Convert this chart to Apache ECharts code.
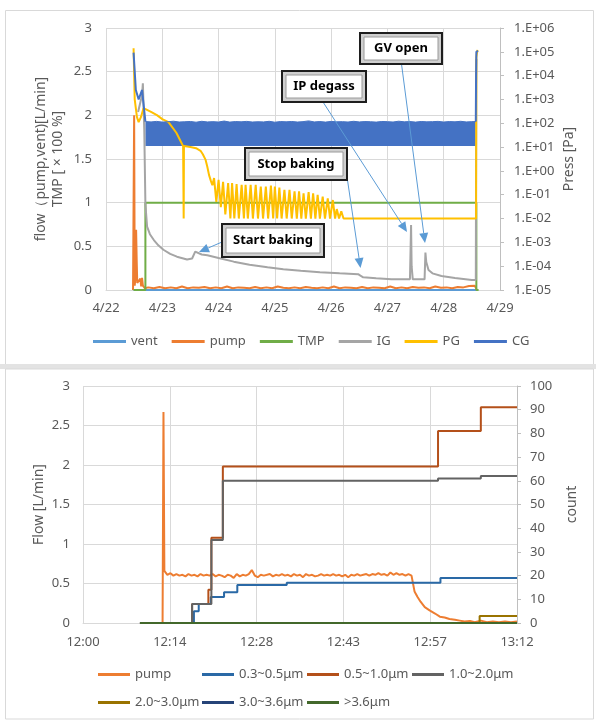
<!DOCTYPE html>
<html>
<head>
<meta charset="utf-8">
<title>flow / pressure</title>
<script src="https://cdn.jsdelivr.net/npm/echarts@6.0.0/dist/echarts.min.js"></script>
<style>
html, body { margin: 0; padding: 0; background: #fff; }
#main { width: 596px; height: 721px; }
</style>
</head>
<body>
<div id="main"></div>
<script>
var dom = document.getElementById('main');
var myChart = echarts.init(dom);

/* ---------- upper chart : x = days since 4/22 0:00 ---------- */
var dayLabels = ['4/22', '4/23', '4/24', '4/25', '4/26', '4/27', '4/28', '4/29'];
var topNames = ['vent', 'pump', 'TMP', 'IG', 'PG', 'CG'];
var topColors = ['#5B9BD5', '#ED7D31', '#70AD47', '#A5A5A5', '#FFC000', '#4472C4'];

// left axis  [L/min] / [x100 %]
var ventData = [[0.49, 0], [6.6, 0]];
var pumpData = [[0.48, 0], [0.50, 2.0], [0.51, 0.05], [0.52, 0.12], [0.535, 0.69], [0.545, 0.35], [0.555, 0.08],
    [0.57, 0.1], [0.59, 0.06], [0.61, 0.13], [0.625, 0.04], [0.64, 0.14], [0.655, 0.05], [0.67, 0.03], [0.69, 0.02],
    [0.75, 0.03], [0.85, 0.02], [0.95, 0.035], [1.05, 0.02], [1.15, 0.03], [1.25, 0.02], [1.35, 0.04], [1.45, 0.02],
    [1.55, 0.03], [1.65, 0.025], [1.75, 0.035], [1.85, 0.02], [1.95, 0.03], [2.05, 0.02], [2.15, 0.04], [2.25, 0.02],
    [2.35, 0.03], [2.45, 0.025], [2.55, 0.02], [2.65, 0.035], [2.75, 0.02], [2.85, 0.03], [2.95, 0.02], [3.05, 0.04],
    [3.15, 0.025], [3.25, 0.02], [3.35, 0.03], [3.45, 0.02], [3.55, 0.035], [3.65, 0.025], [3.75, 0.02], [3.85, 0.03],
    [3.95, 0.02], [4.05, 0.04], [4.15, 0.02], [4.25, 0.03], [4.35, 0.025], [4.45, 0.02], [4.55, 0.035], [4.65, 0.02],
    [4.75, 0.03], [4.85, 0.025], [4.95, 0.02], [5.05, 0.04], [5.15, 0.02], [5.25, 0.03], [5.35, 0.02], [5.45, 0.035],
    [5.55, 0.025], [5.65, 0.03], [5.75, 0.02], [5.85, 0.04], [5.95, 0.025], [6.05, 0.03], [6.15, 0.02], [6.25, 0.035],
    [6.35, 0.03], [6.45, 0.045], [6.55, 0.05], [6.575, 0.02], [6.58, 0]];
var tmpData = [[0.49, 0], [0.70, 0], [0.70, 1], [6.58, 1], [6.58, 0], [6.62, 0]];

// right axis  [Pa]
var igData = [[0.57, 300], [0.64, 1500], [0.655, 4800], [0.68, 50], [0.70, 0.04], [0.73, 4.6e-3], [0.78, 2.2e-3],
    [0.85, 1.25e-3], [0.93, 7.5e-4], [1.02, 4.9e-4], [1.14, 3.3e-4], [1.26, 2.5e-4], [1.44, 1.9e-4], [1.53, 2.1e-4],
    [1.56, 1.9e-4], [1.585, 4.1e-4], [1.62, 3.5e-4], [1.70, 3.1e-4], [1.80, 2.9e-4], [2.0, 2.2e-4], [2.27, 1.55e-4],
    [2.55, 1.15e-4], [2.87, 9e-5], [3.15, 7.5e-5], [3.46, 6.5e-5], [3.8, 5.6e-5], [4.15, 5.0e-5], [4.48, 4.6e-5],
    [4.52, 4.0e-5], [4.57, 3.4e-5], [4.8, 3.1e-5], [5.07, 2.8e-5], [5.40, 2.8e-5], [5.42, 5.4e-3], [5.43, 1e-4],
    [5.45, 2.8e-5], [5.66, 2.8e-5], [5.675, 3.7e-4], [5.69, 1.5e-4], [5.73, 6.9e-5], [5.8, 5e-5], [5.96, 3.9e-5],
    [6.2, 3.2e-5], [6.5, 2.6e-5], [6.57, 2.6e-5], [6.58, 5e4]];
var pgData = [[0.49, 1.4e5], [0.51, 1e3], [0.55, 180], [0.58, 112], [0.62, 180], [0.666, 430], [0.70, 430],
    [0.80, 300], [0.905, 220], [1.0, 150], [1.11, 112], [1.25, 40], [1.37, 11], [1.375, 11], [1.38, 0.01],
    [1.385, 11], [1.5, 10], [1.6, 9], [1.68, 7], [1.72, 5], [1.77, 2.9], [1.80, 1.5], [1.83, 0.68], [1.86, 0.4],
    [1.89, 0.25],
    [1.92, 0.5], [1.96, 0.05], [2.00, 0.42], [2.04, 0.03], [2.08, 0.35], [2.12, 0.015], [2.17, 0.31], [2.21, 0.01],
    [2.24, 0.31], [2.28, 0.01], [2.32, 0.28], [2.36, 0.01], [2.41, 0.26], [2.45, 0.01], [2.48, 0.26], [2.52, 0.01],
    [2.57, 0.26], [2.61, 0.01], [2.66, 0.26], [2.70, 0.01], [2.75, 0.22], [2.79, 0.01], [2.84, 0.22], [2.88, 0.01],
    [2.93, 0.24], [2.97, 0.01], [3.00, 0.22], [3.04, 0.01], [3.08, 0.2], [3.12, 0.01], [3.17, 0.16], [3.21, 0.01],
    [3.26, 0.16], [3.30, 0.01], [3.35, 0.14], [3.39, 0.01], [3.43, 0.14], [3.47, 0.01], [3.51, 0.115], [3.55, 0.01],
    [3.60, 0.13], [3.64, 0.01], [3.68, 0.115], [3.72, 0.01], [3.76, 0.1], [3.80, 0.01], [3.85, 0.083], [3.89, 0.01],
    [3.94, 0.07], [3.98, 0.01], [4.03, 0.06], [4.07, 0.01], [4.10, 0.025], [4.14, 0.01], [4.18, 0.02], [4.22, 0.01],
    [6.575, 0.01], [6.58, 6e4], [6.60, 1.2e5]];
var cgStart = [[0.49, 9.3e4], [0.53, 2.5e3], [0.58, 1e3], [0.64, 2.5e3], [0.70, 118]];
// CG swings quickly between ~11 Pa and the upper values below: drawn as a filled band
var cgBandT = [0.70, 0.8, 0.9, 1.0, 1.1, 1.2, 1.3, 1.4, 1.5, 1.6,
    1.7, 1.8, 1.9, 2.0, 2.1, 2.2, 2.3, 2.4, 2.5, 2.6,
    2.7, 2.8, 2.9, 3.0, 3.1, 3.2, 3.3, 3.4, 3.5, 3.6,
    3.7, 3.8, 3.9, 4.0, 4.1, 4.2, 4.3, 4.4, 4.5, 4.6,
    4.7, 4.8, 4.9, 5.0, 5.1, 5.2, 5.3, 5.4, 5.5, 5.6,
    5.7, 5.8, 5.9, 6.0, 6.1, 6.2, 6.3, 6.4, 6.5, 6.57];
var cgBandHigh = [118, 114, 120, 112, 116, 122, 113, 116, 119, 111,
    121, 114, 117, 113, 124, 112, 118, 115, 120, 113,
    116, 114, 121, 111, 118, 115, 119, 113, 117, 126,
    114, 118, 112, 120, 115, 117, 113, 121, 114, 118,
    116, 112, 119, 117, 113, 122, 115, 118, 112, 119,
    115, 117, 120, 113, 118, 115, 121, 114, 117, 118];
var cgBandLow = 11;
var cgEnd = [[6.57, 118], [6.575, 1.1e4], [6.58, 1e5], [6.61, 1.1e5]];

/* ---------- lower chart : x = minutes since 12:00 ---------- */
var bottomNames = ['pump', '0.3~0.5μm', '0.5~1.0μm', '1.0~2.0μm', '2.0~3.0μm', '3.0~3.6μm', '>3.6μm'];
var bottomColors = ['#ED7D31', '#2A69A6', '#B4501A', '#636363', '#997300', '#264478', '#43682B'];

var flowData = [[13.2, 0], [13.35, 2.67], [13.5, 0.66], [14, 0.61], [14.5, 0.63], [15, 0.6], [15.5, 0.62], [16, 0.6],
    [16.5, 0.61], [17, 0.59], [17.5, 0.62], [18, 0.6], [18.5, 0.61], [19, 0.59], [19.5, 0.62], [20, 0.6], [20.5, 0.61],
    [21, 0.6], [21.5, 0.62], [22, 0.59], [22.5, 0.61], [23, 0.6], [23.5, 0.58], [24, 0.61], [24.5, 0.6], [25, 0.57],
    [25.5, 0.62], [26, 0.59], [26.5, 0.61], [27, 0.6], [27.5, 0.62], [28, 0.67], [28.5, 0.6], [29, 0.58], [29.5, 0.61],
    [30, 0.6], [31, 0.62], [31.5, 0.59], [32, 0.61], [32.5, 0.6], [33, 0.62], [33.5, 0.6], [34, 0.61], [34.5, 0.59],
    [35, 0.62], [35.5, 0.6], [36, 0.61], [36.5, 0.58], [37, 0.62], [37.5, 0.6], [38, 0.61], [38.5, 0.59], [39, 0.6],
    [39.5, 0.62], [40, 0.6], [40.5, 0.61], [41, 0.6], [41.5, 0.62], [42, 0.6], [42.5, 0.61], [43, 0.59], [43.5, 0.61],
    [44, 0.58], [44.5, 0.61], [45, 0.6], [45.5, 0.62], [46, 0.6], [46.5, 0.61], [47, 0.62], [47.5, 0.6], [48, 0.62],
    [48.5, 0.61], [49, 0.63], [49.5, 0.61], [50, 0.62], [50.5, 0.6], [51, 0.64], [51.5, 0.61], [52, 0.63], [52.5, 0.61],
    [53, 0.62], [53.5, 0.6], [54, 0.62], [54.5, 0.6], [55, 0.4], [55.5, 0.33], [56, 0.27], [56.7, 0.2], [57.5, 0.16],
    [58.4, 0.12], [59.2, 0.08], [60, 0.07], [60.8, 0.05], [61.7, 0.04], [62.5, 0.03], [63.3, 0.02], [64.2, 0.025],
    [65, 0.01], [66, 0.03], [67, 0.01], [68, 0.02], [69, 0.01], [70, 0.02], [71, 0.01], [72, 0.02]];
var cnt03 = [[9.45, 0], [18.4, 5], [19.2, 8], [21.2, 11], [23.4, 13], [25.6, 16], [33.8, 17], [59.3, 19], [72, 19]];
var cnt05 = [[9.45, 0], [18.1, 8], [20.8, 14], [21.3, 36], [23.2, 66], [58.9, 81], [66.0, 91], [72, 91]];
var cnt10 = [[9.45, 0], [18.1, 8], [21.3, 35], [23.2, 60], [58.9, 61], [66.0, 62], [72, 62]];
var cnt20 = [[9.45, 0], [65.8, 3], [72, 3]];
var cnt30 = [[9.45, 0], [72, 0]];
var cnt36 = [[9.45, 0], [72, 0]];

////////////////////////////////////////

var FONT = 'Noto Sans';
var GREY_TXT = '#595959';
var GRID_LINE = '#D9D9D9';

function sci(v) {
    var e = Math.round(Math.log10(v));
    return '1.E' + (e < 0 ? '-' : '+') + (Math.abs(e) < 10 ? '0' : '') + Math.abs(e);
}
function clock(v) {
    var m = Math.floor(v + 1e-6);
    var mm = m % 60;
    return (12 + Math.floor(m / 60)) + ':' + (mm < 10 ? '0' : '') + mm;
}
function line(name, data, color, xi, yi, extra) {
    var s = {
        type: 'line', name: name, data: data, xAxisIndex: xi, yAxisIndex: yi,
        showSymbol: false, symbol: 'none', animation: false,
        lineStyle: { color: color, width: 2 }, itemStyle: { color: color }
    };
    for (var k in extra) s[k] = extra[k];
    return s;
}

var cgBand = cgBandT.map(function (t, i) { return [t, cgBandHigh[i]]; });

var series = [
    line('vent', ventData, topColors[0], 0, 0),
    line('pump', pumpData, topColors[1], 0, 0),
    line('TMP', tmpData, topColors[2], 0, 0),
    line('IG', igData, topColors[3], 0, 1),
    line('PG', pgData, topColors[4], 0, 1),
    line('CG', cgStart, topColors[5], 0, 1),
    line('CG', cgBand, topColors[5], 0, 1, {
        lineStyle: { width: 1, color: topColors[5] },
        areaStyle: { color: topColors[5], opacity: 1, origin: cgBandLow }
    }),
    line('CG', cgEnd, topColors[5], 0, 1),

    line(bottomNames[0], flowData, bottomColors[0], 1, 2),
    line(bottomNames[1], cnt03, bottomColors[1], 1, 3, { step: 'end' }),
    line(bottomNames[2], cnt05, bottomColors[2], 1, 3, { step: 'end' }),
    line(bottomNames[3], cnt10, bottomColors[3], 1, 3, { step: 'end' }),
    line(bottomNames[4], cnt20, bottomColors[4], 1, 3, { step: 'end' }),
    line(bottomNames[5], cnt30, bottomColors[5], 1, 3, { step: 'end' }),
    line(bottomNames[6], cnt36, bottomColors[6], 1, 3, { step: 'end' })
];

var axisTxt = { color: GREY_TXT, fontSize: 13, fontFamily: FONT };
var nameTxt = { color: GREY_TXT, fontSize: 14, fontFamily: FONT, lineHeight: 17 };

// legends : one row on top, a 4-column grid below
var legends = [{
    data: topNames, left: 93, top: 335, padding: 0, icon: 'rect',
    itemWidth: 33, itemHeight: 3, itemGap: 14,
    textStyle: { color: GREY_TXT, fontSize: 13, fontFamily: FONT }
}];
var colX = [98, 202, 307, 412];
bottomNames.forEach(function (n, i) {
    legends.push({
        data: [n], left: colX[i % 4], top: i < 4 ? 668 : 696, padding: 0, icon: 'rect',
        itemWidth: 32, itemHeight: 3,
        textStyle: { color: GREY_TXT, fontSize: 13, fontFamily: FONT }
    });
});

// callout boxes with arrows
function arrow(x1, y1, x2, y2) {
    var a = Math.atan2(y2 - y1, x2 - x1), L = 10, W = 4.5;
    var bx = x2 - L * Math.cos(a), by = y2 - L * Math.sin(a);
    return [
        { type: 'line', z: 100, shape: { x1: x1, y1: y1, x2: bx, y2: by }, style: { stroke: '#5B9BD5', lineWidth: 1 } },
        { type: 'polygon', z: 100, shape: { points: [[x2, y2], [bx + W * Math.sin(a), by - W * Math.cos(a)], [bx - W * Math.sin(a), by + W * Math.cos(a)]] },
          style: { fill: '#5B9BD5' } }
    ];
}
function callout(x, y, w, h, text) {
    return [
        { type: 'rect', z: 101, shape: { x: x, y: y, width: w, height: h }, style: { fill: '#CFCFCF', stroke: '#1E1E1E', lineWidth: 2 } },
        { type: 'rect', z: 101, shape: { x: x + 4, y: y + 4, width: w - 8, height: h - 8 }, style: { fill: '#FFFFFF', stroke: '#9A9A9A', lineWidth: 1 } },
        { type: 'text', z: 102, x: x + w / 2, y: y + h / 2,
          style: { text: text, align: 'center', verticalAlign: 'middle', fontSize: 13, fontWeight: 'bold', fontFamily: FONT, fill: '#000' } }
    ];
}

var graphic = [
    { type: 'rect', z: -1, shape: { x: 5.5, y: 10.5, width: 588, height: 356 }, style: { fill: 'none', stroke: GRID_LINE, lineWidth: 1 } },
    { type: 'rect', z: -1, shape: { x: 0, y: 364, width: 596, height: 5 }, style: { fill: '#E3E3E3' } },
    { type: 'rect', z: -1, shape: { x: 5.5, y: 369, width: 588, height: 350 }, style: { fill: 'none', stroke: GRID_LINE, lineWidth: 1 } }
]
    .concat(arrow(222, 242, 199, 252))
    .concat(arrow(346, 170, 360.5, 268))
    .concat(arrow(323, 102, 407, 232))
    .concat(arrow(401.5, 64, 425, 243))
    .concat(callout(360, 33, 82, 31, 'GV open'))
    .concat(callout(282, 71, 84, 31, 'IP degass'))
    .concat(callout(245, 148, 102, 32, 'Stop baking'))
    .concat(callout(222, 224, 102, 33, 'Start baking'));

var option = {
    animation: false,
    textStyle: { fontFamily: FONT },
    legend: legends,
    graphic: graphic,
    grid: [
        { left: 106, right: 96, top: 28, height: 262 },
        { left: 83, right: 79, top: 386, height: 237 }
    ],
    xAxis: [{
        gridIndex: 0, type: 'value', min: 0, max: 7, interval: 1,
        axisLine: { lineStyle: { color: GRID_LINE } }, axisTick: { show: false },
        axisLabel: Object.assign({ margin: 12, formatter: function (v) { return dayLabels[Math.round(v)]; } }, axisTxt),
        splitLine: { show: true, lineStyle: { color: GRID_LINE } }
    }, {
        gridIndex: 1, type: 'value', min: 0, max: 72, interval: 14.4,
        axisLine: { lineStyle: { color: GRID_LINE } }, axisTick: { show: false },
        axisLabel: Object.assign({ margin: 13, formatter: clock }, axisTxt),
        splitLine: { show: true, lineStyle: { color: GRID_LINE } }
    }],
    yAxis: [{
        gridIndex: 0, type: 'value', min: 0, max: 3, interval: 0.5,
        name: 'flow（pump,vent)[L/min]\nTMP [ × 100 %]', nameLocation: 'middle', nameGap: 39, nameMoveOverlap: false,
        nameTextStyle: nameTxt,
        axisLine: { show: false }, axisTick: { show: false },
        axisLabel: Object.assign({ margin: 14 }, axisTxt),
        splitLine: { show: true, lineStyle: { color: GRID_LINE } }
    }, {
        gridIndex: 0, type: 'log', logBase: 10, min: 1e-5, max: 1e6, interval: 1, position: 'right',
        name: 'Press [Pa]', nameLocation: 'middle', nameGap: 61, nameMoveOverlap: false, nameTextStyle: nameTxt,
        axisLine: { show: true, lineStyle: { color: '#BFBFBF' } },
        axisTick: { show: true, length: 4, lineStyle: { color: '#BFBFBF' } },
        axisLabel: Object.assign({ margin: 14, interval: 0, formatter: sci }, axisTxt),
        splitLine: { show: false }
    }, {
        gridIndex: 1, type: 'value', min: 0, max: 3, interval: 0.5,
        name: 'Flow [L/min]', nameLocation: 'middle', nameGap: 35, nameMoveOverlap: false, nameTextStyle: nameTxt,
        axisLine: { show: false }, axisTick: { show: false },
        axisLabel: Object.assign({ margin: 13 }, axisTxt),
        splitLine: { show: true, lineStyle: { color: GRID_LINE } }
    }, {
        gridIndex: 1, type: 'value', min: 0, max: 100, interval: 10, position: 'right',
        name: 'count', nameLocation: 'middle', nameGap: 47, nameMoveOverlap: false, nameTextStyle: nameTxt,
        axisLine: { show: true, lineStyle: { color: '#BFBFBF' } },
        axisTick: { show: true, length: 4, lineStyle: { color: '#BFBFBF' } },
        axisLabel: Object.assign({ margin: 13 }, axisTxt),
        splitLine: { show: false }
    }],
    series: series
};
if (option && typeof option === 'object') {
    myChart.setOption(option, true);
}
window.addEventListener('resize', function () {
    myChart.resize();
});
</script>
</body>
</html>
